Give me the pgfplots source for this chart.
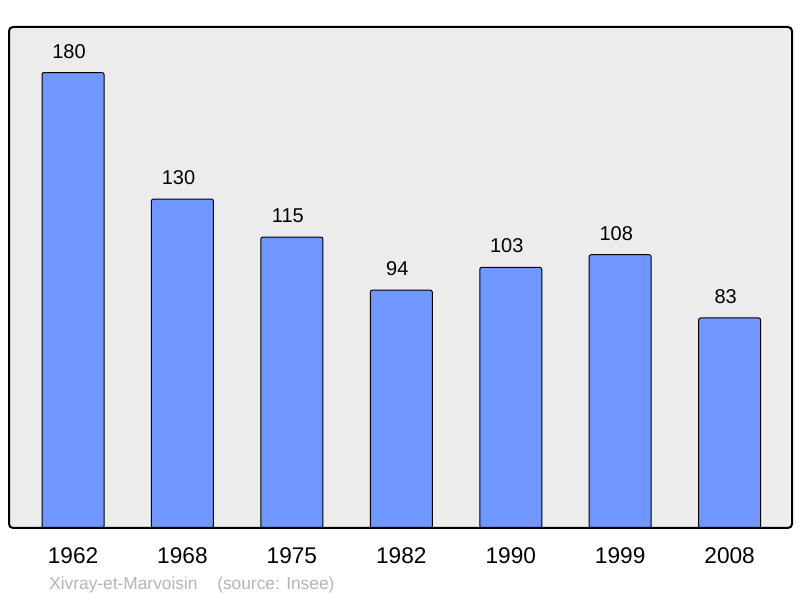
\documentclass[border=0pt]{standalone}
\usepackage{fontspec}
\setmainfont{Liberation Sans}
\usepackage{pgfplots}
\pgfplotsset{compat=1.18}
\definecolor{barblue}{HTML}{7097FF}
\definecolor{panel}{HTML}{ECECEC}
\definecolor{footgray}{HTML}{B4B4B4}

\begin{document}
\begin{tikzpicture}[x=1pt,y=1pt]
  \path[use as bounding box] (0,0) rectangle (600,448.5);
  \begin{axis}[
      at={(6.75pt,52.5pt)},
      anchor=south west,
      scale only axis,
      width=587.25pt,
      height=375.75pt,
      xmin=-0.585, xmax=6.57,
      ymin=0, ymax=198,
      axis line style={draw=none},
      axis background/.style={fill=panel, rounded corners=3pt},
      xtick={0,1,2,3,4,5,6},
      xticklabels={1962,1968,1975,1982,1990,1999,2008},
      xtick style={draw=none},
      ytick=\empty,
      xticklabel style={font=\fontsize{17}{19}\selectfont, anchor=center, yshift=-21pt},
      /pgf/number format/assume math mode=true,
      nodes near coords,
      every node near coord/.append style={font=\fontsize{15}{17}\selectfont, anchor=center, yshift=16pt, xshift=-3pt},
      clip=false,
    ]
    \addplot[ybar, bar width=46.5pt, fill=barblue, draw=black, line width=0.75pt, rounded corners=1.5pt]
      coordinates {(0,180) (1,130) (2,115) (3,94) (4,103) (5,108) (6,83)};
    \draw[line width=1.5pt, rounded corners=3pt] (rel axis cs:0,0) rectangle (rel axis cs:1,1);
  \end{axis}
  \node[anchor=west, inner sep=0pt, text=footgray, font=\fontsize{13}{15}\selectfont] at (36.75,9.75) {Xivray-et-Marvoisin};
  \node[anchor=west, inner sep=0pt, text=footgray, font=\fontsize{13}{15}\selectfont] at (162.75,9.75) {(source: Insee)};
\end{tikzpicture}
\end{document}
